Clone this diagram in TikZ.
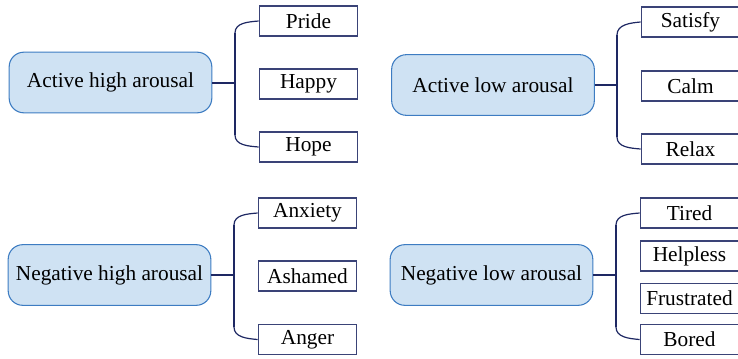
\documentclass[tikz,border=0pt]{standalone}
\usepackage{fontspec}
\setmainfont{Liberation Serif}
\definecolor{rootfill}{HTML}{CFE2F3}
\definecolor{rootline}{HTML}{3D7CC2}
\definecolor{navy}{HTML}{1E2863}
\definecolor{leafline}{HTML}{3A4377}

\begin{document}
\begin{tikzpicture}[x=0.75pt,y=-0.75pt,
  root node/.style={rectangle,rounded corners=11pt,draw=rootline,fill=rootfill,line width=0.8pt,
    minimum width=152pt,minimum height=45.5pt,inner sep=0pt,font=\fontsize{16}{19}\selectfont},
  leaf node/.style={rectangle,draw=leafline,line width=0.8pt,
    minimum width=74pt,minimum height=22.5pt,inner sep=0pt,font=\fontsize{16}{19}\selectfont},
  stem/.style={-,draw=navy,line width=1.5pt},
  branch/.style={-,draw=navy,line width=0.9pt}]

  \useasboundingbox (0,0) rectangle (738,358);

  % active high arousal
  \node[root node] (r1) at (110.5,82.5) {Active high arousal};
  \node[leaf node] (a1) at (308.5,21) {Pride};
  \node[leaf node] (a2) at (308.5,84) {Happy};
  \node[leaf node] (a3) at (308.5,147) {Hope};
  \coordinate (j1) at (235,82.5);
  \coordinate (j1t) at (235,33);
  \coordinate (j1b) at (235,135);

  % active low arousal
  \node[root node] (r2) at (493,85) {Active low arousal};
  \node[leaf node] (b1) at (690.5,22) {Satisfy};
  \node[leaf node] (b2) at (690.5,86) {Calm};
  \node[leaf node] (b3) at (690.5,149) {Relax};
  \coordinate (j2) at (617,85);
  \coordinate (j2t) at (617,35);
  \coordinate (j2b) at (617,137);

  % negative high arousal
  \node[root node] (r3) at (109.5,275) {Negative high arousal};
  \node[leaf node] (c1) at (307.5,213) {Anxiety};
  \node[leaf node] (c2) at (307.5,276) {Ashamed};
  \node[leaf node] (c3) at (307.5,339.5) {Anger};
  \coordinate (j3) at (234,275);
  \coordinate (j3t) at (234,225);
  \coordinate (j3b) at (234,327);

  % negative low arousal
  \node[root node] (r4) at (491.5,275) {Negative low arousal};
  \node[leaf node] (d1) at (689.5,213) {Tired};
  \node[leaf node] (d2) at (689.5,256) {Helpless};
  \node[leaf node] (d3) at (689.5,298.5) {Frustrated};
  \node[leaf node] (d4) at (689.5,339.5) {Bored};
  \coordinate (j4) at (616,275);
  \coordinate (j4t) at (616,225);
  \coordinate (j4b) at (616,327);

 \path[] (r1) [stem] edge node [] {} (j1);
 \path[] (r2) [stem] edge node [] {} (j2);
 \path[] (r3) [stem] edge node [] {} (j3);
 \path[] (r4) [stem] edge node [] {} (j4);

 \path[] (j1t) [branch] edge node [] {} (j1b);
 \path[] (j2t) [branch] edge node [] {} (j2b);
 \path[] (j3t) [branch] edge node [] {} (j3b);
 \path[] (j4t) [branch] edge node [] {} (j4b);

 \path[] (j1t) [branch] edge[out=90,in=185] node [] {} (a1.west);
 \path[] (j1b) [branch] edge[out=-90,in=175] node [] {} (a3.west);
 \path[] (j2t) [branch] edge[out=90,in=185] node [] {} (b1.west);
 \path[] (j2b) [branch] edge[out=-90,in=175] node [] {} (b3.west);
 \path[] (j3t) [branch] edge[out=90,in=185] node [] {} (c1.west);
 \path[] (j3b) [branch] edge[out=-90,in=175] node [] {} (c3.west);
 \path[] (j4t) [branch] edge[out=90,in=185] node [] {} (d1.west);
 \path[] (j4b) [branch] edge[out=-90,in=175] node [] {} (d4.west);
\end{tikzpicture}
\end{document}
